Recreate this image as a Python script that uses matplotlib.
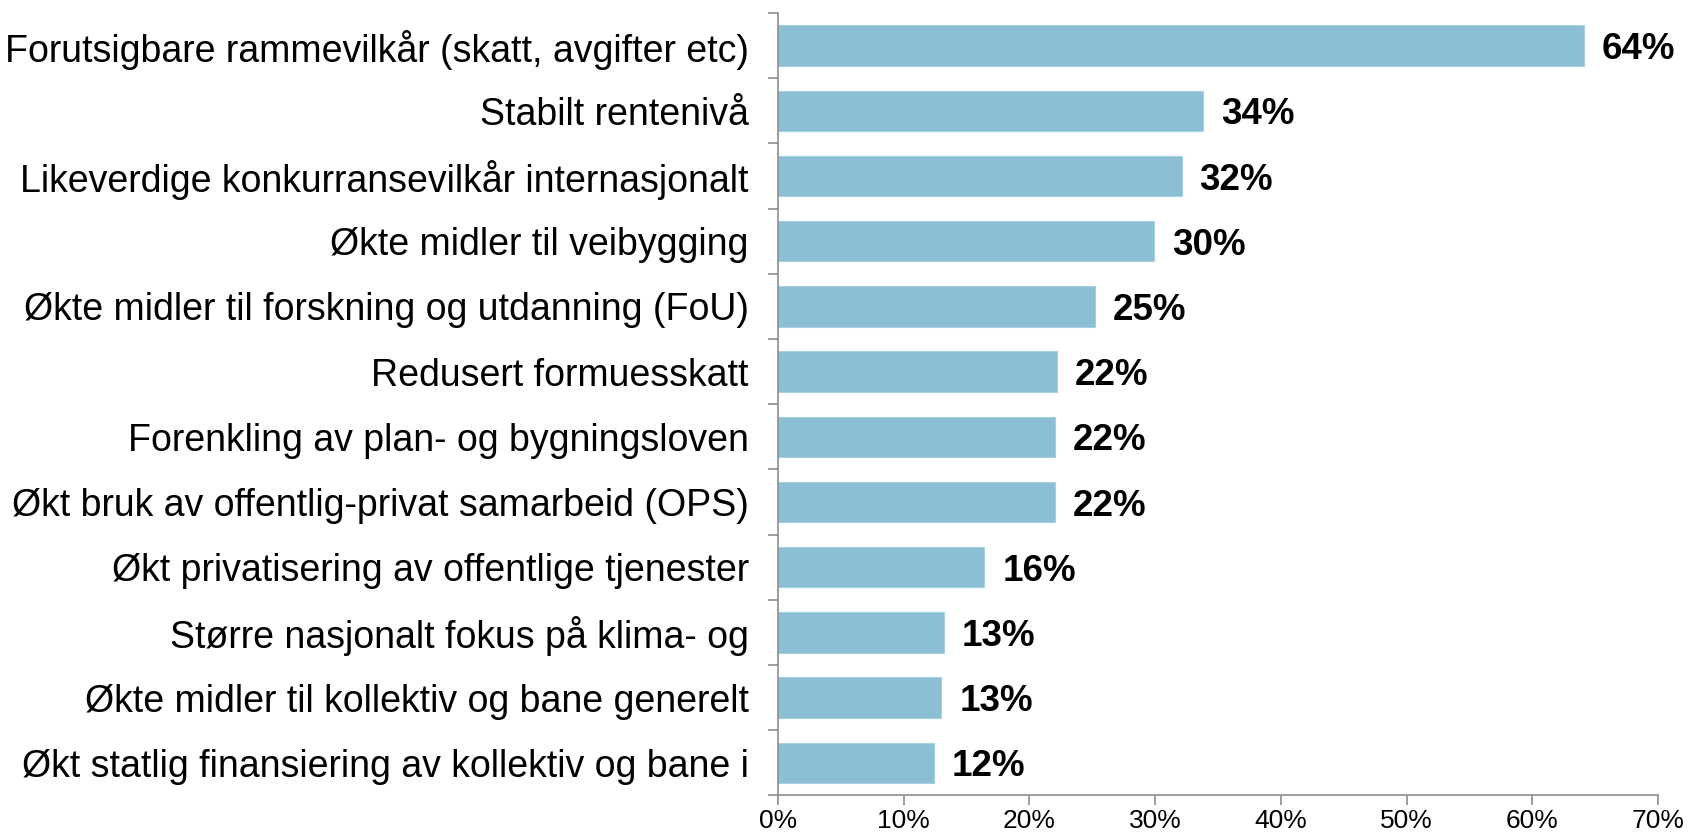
import matplotlib.pyplot as plt
from matplotlib.ticker import FixedLocator, PercentFormatter

# Data (share of respondents, %)
categories = [
    "Forutsigbare rammevilkår (skatt, avgifter etc)",
    "Stabilt rentenivå",
    "Likeverdige konkurransevilkår internasjonalt",
    "Økte midler til veibygging",
    "Økte midler til forskning og utdanning (FoU)",
    "Redusert formuesskatt",
    "Forenkling av plan- og bygningsloven",
    "Økt bruk av offentlig-privat samarbeid (OPS)",
    "Økt privatisering av offentlige tjenester",
    "Større nasjonalt fokus på klima- og",
    "Økte midler til kollektiv og bane generelt",
    "Økt statlig finansiering av kollektiv og bane i",
]
values = [64.1, 33.8, 32.1, 29.9, 25.2, 22.2, 22.0, 22.0, 16.4, 13.2, 13.0, 12.4]

bar_color = "#8bbfd5"
axis_color = "#8c8c8c"
plt.rcParams["font.family"] = ["Liberation Sans", "DejaVu Sans"]

fig = plt.figure(figsize=(16.88, 8.39), dpi=100)
ax = fig.add_axes([0.4609, 0.052, 0.5213, 0.9325])

pos = list(range(len(categories)))
bars = ax.barh(pos, values, height=0.62, color=bar_color,
               edgecolor="#a9d0e0", linewidth=0.8)

for bar, v in zip(bars, values):
    ax.annotate(f"{v:.0f}%", (bar.get_width(), bar.get_y() + bar.get_height() / 2),
                xytext=(13, -3), textcoords="offset points",
                ha="left", va="center", fontsize=26.5, fontweight="bold")

ax.set_ylim(len(categories) - 0.5, -0.5)
ax.set_xlim(0, 70)

# category boundaries get the tick marks, centres get the labels
ax.yaxis.set_major_locator(FixedLocator([i - 0.5 for i in range(len(categories) + 1)]))
ax.yaxis.set_minor_locator(FixedLocator(pos))
ax.set_yticklabels([], minor=False)
ax.set_yticklabels(categories, minor=True, fontsize=27)
ax.tick_params(axis="y", which="major", length=7, width=1.2, color=axis_color, direction="out")
ax.tick_params(axis="y", which="minor", length=0, pad=21)

ax.set_xticks(range(0, 71, 10))
ax.xaxis.set_major_formatter(PercentFormatter(decimals=0))
ax.tick_params(axis="x", length=7, width=1.2, color=axis_color, direction="out",
               labelsize=19, pad=3)

for side in ["top", "right"]:
    ax.spines[side].set_visible(False)
for side in ["left", "bottom"]:
    ax.spines[side].set_color(axis_color)
    ax.spines[side].set_linewidth(1.2)

fig.savefig("out.png", dpi=100)
